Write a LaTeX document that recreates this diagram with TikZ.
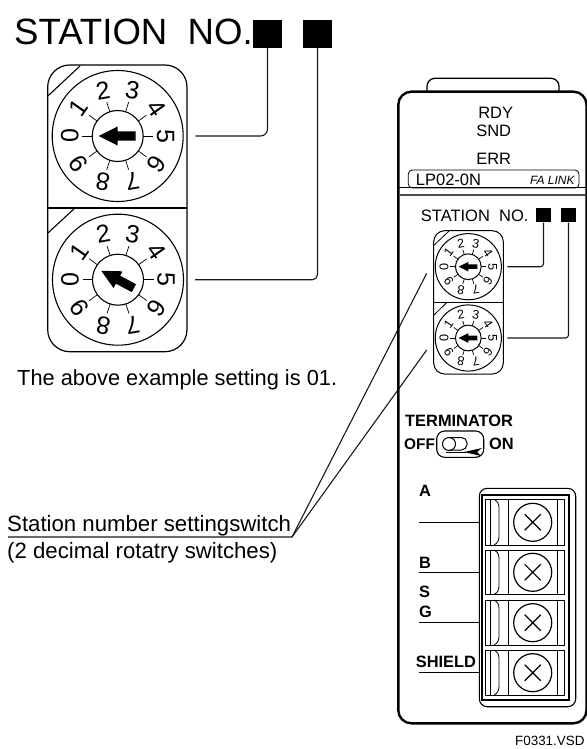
\documentclass[tikz,border=0pt]{standalone}
\usepackage{fontspec}
\setmainfont{Liberation Sans}
\tikzset{
  x=1pt,y=-1pt,
  txt/.style={inner sep=0pt,anchor=base west,text depth=0pt},
  txtc/.style={inner sep=0pt,anchor=base,text depth=0pt},
  rlabel/.style={inner sep=0pt,font=\fontsize{#1}{#1}\selectfont},
  lead/.style={line width=1.1pt,black!90},
  sqbox/.style={fill=black,draw=none,inner sep=0pt,minimum size=0pt},
}
\newcommand{\dial}[5]{%
 \begin{scope}[shift={(#1,#2)},line width=#5]
  \draw (0,0) circle[radius=65.5*#3];
  \draw (0,0) circle[radius=25.5*#3];
  \foreach \d/\a/\r in {0/180/90,1/144/55,2/108/10,3/72/-10,4/36/-55,5/0/-90,6/-36/-125,7/-72/190,8/-108/170,9/-144/125}{
    \draw[line width=.7pt] (\a:25.5*#3 and -25.5*#3) -- (\a:35.5*#3 and -35.5*#3);
    \pgfmathsetmacro{\fs}{25*#3}
    \node[rlabel=\fs,rotate=\r] at (\a:48*#3 and -48*#3) {\d};
  }
  \fill[rotate=#4,scale=#3] (-19,0) -- (0,-9.5) -- (0,-4.5) -- (18,-4.5) -- (18,4.5) -- (0,4.5) -- (0,9.5) -- cycle;
 \end{scope}}
\begin{document}
\begin{tikzpicture}
\useasboundingbox (0,0) rectangle (586,749);
% title
\node[txt,font=\fontsize{36.6}{36.6}\selectfont] (title) at (14,45) {STATION\ \ NO.};
\node[sqbox,minimum width=28.4pt,minimum height=28pt] (q1) at (267.5,34) {};
\node[sqbox,minimum width=29pt,minimum height=28pt] (q2) at (317.5,34) {};
% big switches
\draw[line width=1.2pt,rounded corners=22pt] (47.7,65) rectangle (187,351.7);
\draw[line width=1.2pt] (47.7,208) -- (187,208);
\draw[line width=1.1pt] (80,66) -- (48.2,95.7);
\draw[line width=1.1pt] (75,208) -- (47.9,233);
\dial{117.7}{136}{1}{0}{1.1pt}
\dial{118}{279.7}{1}{-28}{1.1pt}
\coordinate (b1) at (195.3,136);
\coordinate (b2) at (195,279.7);
\draw[lead,rounded corners=7pt] (q1.south) -- (267.5,136) -- (b1);
\draw[lead,rounded corners=5pt] (q2.south) -- (317.5,279.7) -- (b2);
\node[txt,font=\fontsize{21.8}{21.8}\selectfont] (ex) at (17,385) {The above example setting is 01.};
% label
\node[txt,font=\fontsize{22.2}{22.2}\selectfont] (st) at (7,531.5) {Station number settingswitch};
\node[txt,font=\fontsize{22.2}{22.2}\selectfont] (dec) at (7,558) {(2 decimal rotatry switches)};
\coordinate (ul0) at (8,537);
\coordinate (ul1) at (292,537);
\coordinate (le1) at (426.7,273.3);
\coordinate (le2) at (426.7,350);
\draw[lead] (ul0) -- (ul1) -- (le1);
\draw[lead] (ul1) -- (le2);
% device
\draw[line width=1.3pt,rounded corners=8pt] (427,92) -- (427,78.3) -- (559,78.3) -- (559,92);
\draw[line width=2.4pt,rounded corners=13pt] (398.3,91.7) rectangle (586.5,723.3);
\draw[line width=.7pt] (399,187.7) -- (586,187.7);
\draw[line width=1.1pt,black!70] (399,195) -- (586,195);
\draw[line width=.8pt,rounded corners=4pt] (408.3,170) rectangle (579,188);
\node[txtc,font=\fontsize{16.5}{16.5}\selectfont] (rdy) at (495.7,119) {RDY};
\node[txtc,font=\fontsize{16.5}{16.5}\selectfont] (snd) at (493.7,136) {SND};
\node[txtc,font=\fontsize{16.5}{16.5}\selectfont] (err) at (493.7,164) {ERR};
\node[txt,font=\fontsize{16.5}{16.5}\selectfont] (lp) at (415.7,185) {LP02-0N};
\node[txt,font=\fontsize{12}{12}\selectfont\itshape] (fa) at (530,184.3) {FA LINK};
\node[txt,font=\fontsize{16.5}{16.5}\selectfont] (st2) at (420.7,221.7) {STATION\ \ NO.};
\node[sqbox,minimum width=15pt,minimum height=14.5pt] (s1) at (543.5,215.2) {};
\node[sqbox,minimum width=15pt,minimum height=14.5pt] (s2) at (568.5,215.2) {};
% small switches
\draw[line width=1pt,rounded corners=11pt] (433.7,230.7) rectangle (503.3,374);
\draw[line width=1pt] (433.7,302.3) -- (503.3,302.3);
\draw[line width=.8pt] (449,231) -- (434.2,245);
\draw[line width=.8pt] (447,302.3) -- (434,315);
\dial{468.3}{266.7}{.505}{0}{1pt}
\dial{468.3}{338}{.505}{0}{1pt}
\coordinate (c1) at (507.3,266.7);
\coordinate (c2) at (507.3,338);
\draw[lead,rounded corners=3pt] (s1.south) -- (543.5,266.7) -- (c1);
\draw[lead,rounded corners=3pt] (s2.south) -- (568.5,338) -- (c2);
% terminator
\node[txt,font=\bfseries\fontsize{16.4}{16.4}\selectfont] (term) at (405,426) {TERMINATOR};
\node[txt,font=\bfseries\fontsize{15.4}{15.4}\selectfont] (off) at (404,449.3) {OFF};
\node[txt,font=\bfseries\fontsize{16.4}{16.4}\selectfont] (on) at (489,449.3) {ON};
\draw[line width=1.1pt,rounded corners=8pt] (436.7,431) rectangle (483.7,457.3);
\draw[line width=1pt,rounded corners=5.5pt] (449,437.5) -- (467,437.5) -- (467,450) -- (449,450);
\draw[line width=1pt] (449,444) circle[radius=6.5];
\fill (482,448) -- (464,452) -- (481,456) -- (477,452) -- cycle;
\draw[line width=.9pt] (446,452) -- (466,452);
% terminal block
\draw[line width=1.1pt,rounded corners=8pt] (479.3,488.3) rectangle (575.7,706.7);
\draw[line width=2pt] (482.3,495) rectangle (569.3,700);
\foreach \n/\t/\b/\m in {a/499.3/545/522.3,b/550/594.5/572.3,c/600/645/622.7,d/650/695/672.7}{
  \draw[line width=1pt] (485,\t) rectangle (564.3,\b);
  \draw[line width=.8pt] (490,\t) -- (490,\b) (508.3,\t) -- (508.3,\b) (557.7,\t) -- (557.7,\b);
  \draw[line width=.8pt] (494,\t) .. controls (498,\t+2) and (499,\t+5) .. (499,\t+9) -- (499,\b-9) .. controls (499,\b-5) and (498,\b-2) .. (494,\b);
  \node[circle,draw,line width=1.2pt,minimum size=38pt,inner sep=0pt] (scr\n) at (532.7,\m) {};
  \draw[line width=1.2pt] (524.7,\m-8) -- (540.7,\m+8) (524.7,\m+8) -- (540.7,\m-8);
}
\node[txt,font=\bfseries\fontsize{16.4}{16.4}\selectfont] (la) at (419,496.7) {A};
\node[txt,font=\bfseries\fontsize{16.4}{16.4}\selectfont] (lb) at (419,568) {B};
\node[txt,font=\bfseries\fontsize{16.4}{16.4}\selectfont] (ls) at (419,597) {S};
\node[txt,font=\bfseries\fontsize{16.4}{16.4}\selectfont] (lg) at (419,617) {G};
\node[txt,font=\bfseries\fontsize{16.4}{16.4}\selectfont] (lsh) at (415.7,667.3) {SHIELD};
\foreach \n/\y in {a/522,b/572.7,c/622.7,d/672.7}{
  \coordinate (w\n) at (419,\y);
  \coordinate (e\n) at (479.3,\y);
  \draw[line width=1pt] (w\n) -- (e\n);
}
\node[txt,font=\fontsize{13.4}{13.4}\selectfont] (fn) at (515,745.5) {F0331.VSD};
\end{tikzpicture}
\end{document}
